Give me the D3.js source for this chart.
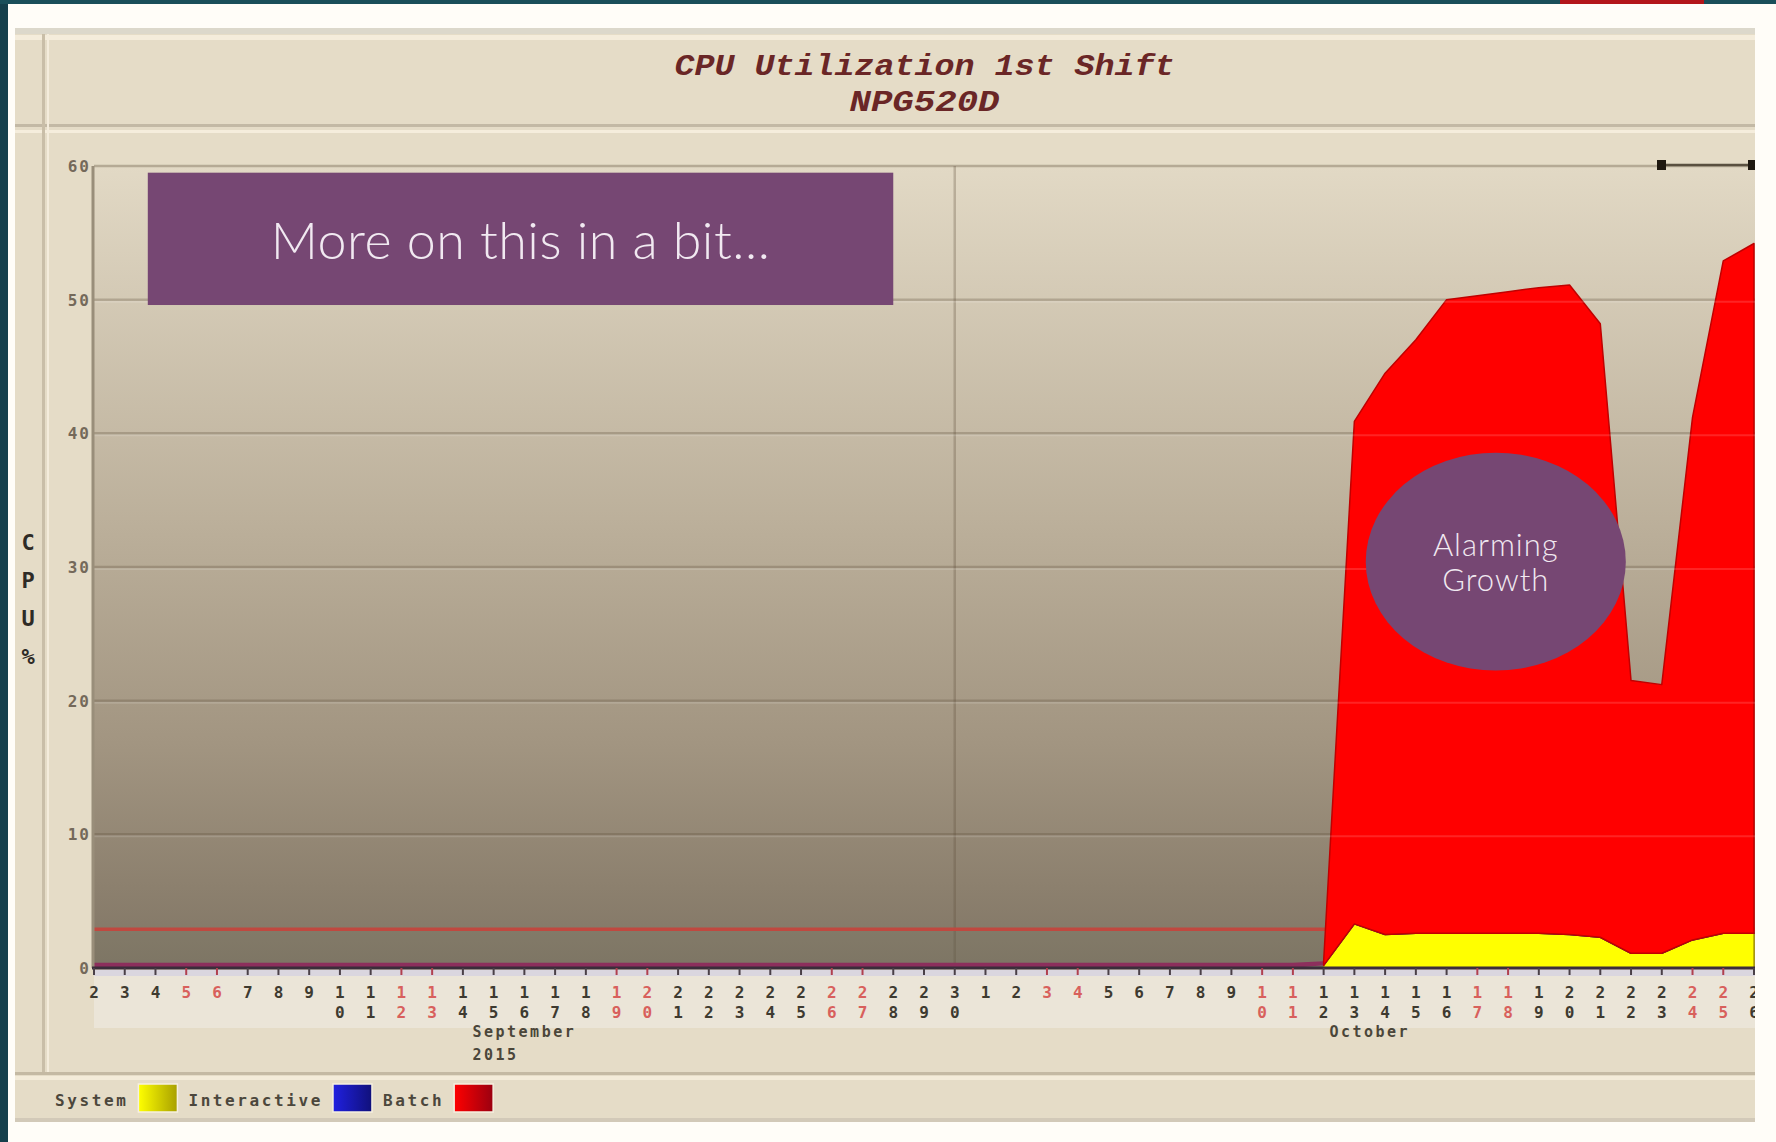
<!DOCTYPE html>
<html>
<head>
<meta charset="utf-8">
<title>CPU Utilization 1st Shift</title>
<script src="https://cdn.jsdelivr.net/npm/d3@7"></script>
<style>
body { margin: 0; background: #fffdf8; }
svg { display: block; }
</style>
</head>
<body>
<div id="chart"></div>
<script>
// ---- data ----
// one point per calendar day, Sep 2 2015 .. Oct 26 2015
var septDays = [2,3,4,5,6,7,8,9,10,11,12,13,14,15,16,17,18,19,20,21,22,23,24,25,26,27,28,29,30];
var octDays  = [1,2,3,4,5,6,7,8,9,10,11,12,13,14,15,16,17,18,19,20,21,22,23,24,25,26];

var systemCpu = [
  0,0,0,0,0,0,0,0,0,0,
  0,0,0,0,0,0,0,0,0,0,
  0,0,0,0,0,0,0,0,0,0,
  0,0,0,0,0,0,0,0,0,0,
  0.2,3.3,2.5,2.6,2.6,2.6,2.6,2.6,2.5,2.3,
  1.1,1.1,2.1,2.6,2.6
];
var interactiveCpu = [
  0,0,0,0,0,0,0,0,0,0,
  0,0,0,0,0,0,0,0,0,0,
  0,0,0,0,0,0,0,0,0,0,
  0,0,0,0,0,0,0,0,0,0,
  0,0,0,0,0,0,0,0,0,0,
  0,0,0,0,0
];
var batchCpu = [
  0.4,0.4,0.4,0.4,0.4,0.4,0.4,0.4,0.4,0.4,
  0.4,0.4,0.4,0.4,0.4,0.4,0.4,0.4,0.4,0.4,
  0.4,0.4,0.4,0.4,0.4,0.4,0.4,0.4,0.4,0.4,
  0.4,0.4,0.4,0.4,0.4,0.4,0.4,0.4,0.4,0.4,
  0.3,37.6,42.0,44.4,47.4,47.7,48.0,48.3,48.6,45.9,
  20.4,20.1,39.1,50.3,51.6
];
var flatLineLevel = 2.9;   // red reference line under the flat part

var yTicks = [0,10,20,30,40,50,60];
var yTickLabels = ["0","10","20","30","40","50","60"];
var monthLabels = [["September","2015"],["October"]];
var seriesKeys = ["system","interactive","batch"];
var legendNames = ["System","Interactive","Batch"];

var titleLines = ["CPU Utilization 1st Shift","NPG520D"];
var boxNote = {text: "More on this in a bit\u2026", x0: 1.75, x1: 26, y0: 49.6, y1: 59.5};
var bubbleNote = {lines: ["Alarming","Growth"], cx: 45.6, cy: 30.4, rx: 4.23, ry: 8.15};

// ---- layout ----
var W = 1776, H = 1142;
var plot = {left: 94, right: 1755, top: 166, bottom: 968};
var colors = {system: "#ffff00", interactive: "#2020e0", batch: "#ff0000"};
var swatchDark = {system: "#a8a000", interactive: "#10107a", batch: "#9a0010"};

var svg = d3.select("#chart").append("svg")
  .attr("width", W)
  .attr("height", H);

var defs = svg.append("defs");

var bg = defs.append("linearGradient")
  .attr("id", "plotBg")
  .attr("x1", 0).attr("y1", 0).attr("x2", 0).attr("y2", 1);
bg.append("stop").attr("offset", "0%").attr("stop-color", "#e2d9c5");
bg.append("stop").attr("offset", "45%").attr("stop-color", "#bbaf9a");
bg.append("stop").attr("offset", "72%").attr("stop-color", "#a29581");
bg.append("stop").attr("offset", "90%").attr("stop-color", "#8c806e");
bg.append("stop").attr("offset", "100%").attr("stop-color", "#807565");

seriesKeys.forEach(function(k) {
  var g = defs.append("linearGradient").attr("id", "sw_" + k);
  g.append("stop").attr("offset", "0%").attr("stop-color", colors[k]);
  g.append("stop").attr("offset", "100%").attr("stop-color", swatchDark[k]);
});

defs.append("clipPath").attr("id", "plotClip")
  .append("rect")
  .attr("x", plot.left).attr("y", 140)
  .attr("width", plot.right - plot.left).attr("height", plot.bottom - 140 + 1);

defs.append("clipPath").attr("id", "imgClip")
  .append("rect")
  .attr("x", 15).attr("y", 28)
  .attr("width", plot.right - 15).attr("height", 1122 - 28);

// page frame (slide around the screenshot)
svg.append("rect").attr("width", W).attr("height", H).attr("fill", "#fffdf8");
svg.append("rect").attr("x", 0).attr("y", 0).attr("width", 8).attr("height", H).attr("fill", "#153f4b");
svg.append("rect").attr("x", 0).attr("y", 0).attr("width", W).attr("height", 4).attr("fill", "#1a4f5a");
svg.append("rect").attr("x", 1560).attr("y", 0).attr("width", 144).attr("height", 4).attr("fill", "#b3161a");

// screenshot background
var img = svg.append("g").attr("clip-path", "url(#imgClip)");
img.append("rect").attr("x", 15).attr("y", 28).attr("width", plot.right - 15).attr("height", 1122 - 28).attr("fill", "#e5dcc7");
img.append("rect").attr("x", 15).attr("y", 28).attr("width", plot.right - 15).attr("height", 6).attr("fill", "#dcd8cb");
img.append("rect").attr("x", 15).attr("y", 35).attr("width", plot.right - 15).attr("height", 5).attr("fill", "#f4ecdb");
img.append("rect").attr("x", 15).attr("y", 124).attr("width", plot.right - 15).attr("height", 3).attr("fill", "#c3b9a5");
img.append("rect").attr("x", 15).attr("y", 130).attr("width", plot.right - 15).attr("height", 3).attr("fill", "#f5eddc");
img.append("rect").attr("x", 42).attr("y", 34).attr("width", 3).attr("height", 1073 - 34).attr("fill", "#c9bea8");
img.append("rect").attr("x", 47).attr("y", 34).attr("width", 2).attr("height", 1073 - 34).attr("fill", "#f4ecdc");
img.append("rect").attr("x", plot.left).attr("y", 970).attr("width", plot.right - plot.left).attr("height", 58).attr("fill", "#ebe5d8");
img.append("rect").attr("x", 15).attr("y", 1072).attr("width", plot.right - 15).attr("height", 3).attr("fill", "#c4b9a3");
img.append("rect").attr("x", 15).attr("y", 1076).attr("width", plot.right - 15).attr("height", 4).attr("fill", "#f3ebd9");
img.append("rect").attr("x", 15).attr("y", 1118).attr("width", plot.right - 15).attr("height", 4).attr("fill", "#d2c9b8");

// plot background
img.append("rect")
  .attr("x", plot.left).attr("y", plot.top)
  .attr("width", plot.right - plot.left).attr("height", plot.bottom - plot.top)
  .attr("fill", "url(#plotBg)");

// title
titleLines.forEach(function(t, i) {
  img.append("text")
    .attr("x", (plot.left + plot.right) / 2)
    .attr("y", 75 + i * 36)
    .attr("text-anchor", "middle")
    .attr("textLength", i == 0 ? 500 : 150)
    .attr("lengthAdjust", "spacingAndGlyphs")
    .style("font-family", "Liberation Mono")
    .style("font-weight", "bold")
    .style("font-style", "italic")
    .style("font-size", "30px")
    .attr("fill", "#6a2626")
    .text(t);
});

// scales
var xScale = d3.scaleLinear()
  .domain([0, septDays.length + octDays.length - 1])
  .range([plot.left, plot.right - 1]);

var yScale = d3.scaleLinear()
  .domain([0, 60])
  .range([plot.bottom, plot.top]);

var allDays = septDays.concat(octDays);

// grid lines
var plotG = img.append("g").attr("clip-path", "url(#plotClip)");
plotG.selectAll(".grid")
  .data(yTicks.filter(function(v) { return v > 0; }))
  .enter().append("line")
  .attr("x1", plot.left).attr("x2", plot.right)
  .attr("y1", function(v) { return yScale(v); })
  .attr("y2", function(v) { return yScale(v); })
  .attr("stroke", function(v) { return v == 60 ? "#b5aa95" : "rgba(95,80,60,0.3)"; })
  .attr("stroke-width", 2.5);

// month divider
plotG.append("line")
  .attr("x1", xScale(septDays.length - 1)).attr("x2", xScale(septDays.length - 1))
  .attr("y1", plot.top).attr("y2", plot.bottom)
  .attr("stroke", "rgba(95,80,60,0.3)")
  .attr("stroke-width", 2.5);

// stacked data
var rows = allDays.map(function(d, i) {
  return {i: i, system: systemCpu[i], interactive: interactiveCpu[i], batch: batchCpu[i]};
});
var stacked = d3.stack().keys(seriesKeys)(rows);
var growthStart = systemCpu.findIndex(function(v) { return v > 0; });

var area = d3.area()
  .x(function(d) { return xScale(d.data.i); })
  .y0(function(d) { return yScale(d[0]); })
  .y1(function(d) { return yScale(d[1]); });

// flat part before the ramp: reference line, tinted band, thin batch band
var flatRows = rows.filter(function(r) { return r.i <= growthStart; });
plotG.append("path")
  .datum(flatRows)
  .attr("fill", "rgba(110,125,100,0.12)")
  .attr("d", d3.area()
    .x(function(d) { return xScale(d.i); })
    .y0(function(d) { return yScale(d.batch); })
    .y1(yScale(flatLineLevel)));

plotG.append("line")
  .attr("x1", plot.left).attr("x2", plot.right)
  .attr("y1", yScale(flatLineLevel)).attr("y2", yScale(flatLineLevel))
  .attr("stroke", "#c0483f")
  .attr("stroke-width", 3.5);

plotG.append("path")
  .datum(stacked[2].filter(function(d) { return d.data.i <= growthStart; }))
  .attr("fill", "#8c2f5c")
  .attr("d", area);

// growth part
var strokes = {system: "#b0a000", interactive: "#101080", batch: "#c00000"};
stacked.forEach(function(s) {
  plotG.append("path")
    .datum(s.filter(function(d) { return d.data.i >= growthStart; }))
    .attr("fill", colors[s.key])
    .attr("stroke", strokes[s.key])
    .attr("stroke-width", 1.5)
    .attr("stroke-linejoin", "round")
    .attr("d", area);
});

// faint grid showing through the fill
plotG.selectAll(".gridTop")
  .data(yTicks.filter(function(v) { return v > 0 && v < 60; }))
  .enter().append("line")
  .attr("x1", plot.left).attr("x2", plot.right)
  .attr("y1", function(v) { return yScale(v) + 2; })
  .attr("y2", function(v) { return yScale(v) + 2; })
  .attr("stroke", "rgba(255,255,255,0.14)")
  .attr("stroke-width", 2);

// y axis
img.append("line")
  .attr("x1", plot.left - 1).attr("x2", plot.left - 1)
  .attr("y1", plot.top).attr("y2", plot.bottom)
  .attr("stroke", "#998e7a").attr("stroke-width", 3);

img.selectAll(".ylab")
  .data(yTicks)
  .enter().append("text")
  .attr("x", 91)
  .attr("y", function(v) { return yScale(v) + 6; })
  .attr("text-anchor", "end")
  .style("font-family", "DejaVu Sans Mono")
  .style("font-weight", "bold")
  .style("font-size", "16px")
  .style("letter-spacing", "2px")
  .attr("fill", "#74695a")
  .text(function(v, i) { return yTickLabels[i]; });

["C","P","U","%"].forEach(function(c, i) {
  img.append("text")
    .attr("x", 28).attr("y", 550 + i * 38)
    .attr("text-anchor", "middle")
    .style("font-family", "DejaVu Sans Mono")
    .style("font-weight", "bold")
    .style("font-size", "22px")
    .attr("fill", "#2e2b26")
    .text(c);
});

// x axis
var xAxisG = img.append("g");
xAxisG.append("rect")
  .attr("x", plot.left).attr("y", plot.bottom + 2)
  .attr("width", plot.right - plot.left).attr("height", 6)
  .attr("fill", "#dad6df");
xAxisG.append("line")
  .attr("x1", plot.left - 2).attr("x2", plot.right)
  .attr("y1", plot.bottom).attr("y2", plot.bottom)
  .attr("stroke", "#3b2d3a").attr("stroke-width", 3);

function isWeekend(i) {
  var dt = new Date(2015, 8, 2 + i);
  return dt.getDay() == 0 || dt.getDay() == 6;
}

var ticks = xAxisG.selectAll(".tick")
  .data(allDays.map(function(d, i) { return {day: d, i: i}; }))
  .enter().append("g")
  .attr("transform", function(d) { return "translate(" + xScale(d.i) + ",0)"; });

ticks.append("line")
  .attr("y1", plot.bottom).attr("y2", plot.bottom + 7)
  .attr("stroke", function(d) { return isWeekend(d.i) ? "#b04050" : "#4a4048"; })
  .attr("stroke-width", 2);

ticks.each(function(d) {
  var s = String(d.day);
  var g = d3.select(this);
  for (var k = 0; k < s.length; k++) {
    g.append("text")
      .attr("x", 0)
      .attr("y", 998 + k * 20)
      .attr("text-anchor", "middle")
      .style("font-family", "DejaVu Sans Mono")
      .style("font-weight", "bold")
      .style("font-size", "16px")
      .attr("fill", isWeekend(d.i) ? "#d8605c" : "#3e3a30")
      .text(s[k]);
  }
});

// month labels, centred over the visible part of each month
var monthRanges = [[0, septDays.length - 1], [septDays.length, allDays.length - 1]];
monthLabels.forEach(function(lines, m) {
  var cx = (xScale(monthRanges[m][0]) + Math.min(xScale(monthRanges[m][1]), plot.right)) / 2;
  var g = img.append("g");
  var first = g.append("text")
    .attr("y", 1037)
    .style("font-family", "DejaVu Sans Mono")
    .style("font-weight", "bold")
    .style("font-size", "15px")
    .style("letter-spacing", "2.5px")
    .attr("fill", "#4b463a")
    .text(lines[0]);
  var w = first.node().getComputedTextLength();
  first.attr("x", cx - w / 2);
  for (var k = 1; k < lines.length; k++) {
    g.append("text")
      .attr("x", cx - w / 2)
      .attr("y", 1037 + k * 23)
      .style("font-family", "DejaVu Sans Mono")
      .style("font-weight", "bold")
      .style("font-size", "15px")
      .style("letter-spacing", "2.5px")
      .attr("fill", "#4b463a")
      .text(lines[k]);
  }
});

// small scroll marker top right
img.append("line")
  .attr("x1", 1662).attr("x2", 1752).attr("y1", 165).attr("y2", 165)
  .attr("stroke", "#5a5040").attr("stroke-width", 2.5);
img.append("rect").attr("x", 1657).attr("y", 160).attr("width", 9).attr("height", 10).attr("fill", "#1e1810");
img.append("rect").attr("x", 1748).attr("y", 160).attr("width", 9).attr("height", 10).attr("fill", "#1e1810");

// legend
var lx = 55;
legendNames.forEach(function(name, i) {
  var t = img.append("text")
    .attr("x", lx).attr("y", 1106)
    .style("font-family", "DejaVu Sans Mono")
    .style("font-weight", "bold")
    .style("font-size", "16px")
    .style("letter-spacing", "2.6px")
    .attr("fill", "#4c473c")
    .text(name);
  lx += t.node().getComputedTextLength() + 10;
  img.append("rect")
    .attr("x", lx).attr("y", 1084)
    .attr("width", 39).attr("height", 28)
    .attr("fill", "url(#sw_" + seriesKeys[i] + ")")
    .attr("stroke", "#f6f0e0").attr("stroke-width", 1.5);
  lx += 50;
});

// annotation box
svg.append("rect")
  .attr("x", xScale(boxNote.x0)).attr("y", yScale(boxNote.y1))
  .attr("width", xScale(boxNote.x1) - xScale(boxNote.x0))
  .attr("height", yScale(boxNote.y0) - yScale(boxNote.y1))
  .attr("fill", "#764773");
svg.append("text")
  .attr("x", (xScale(boxNote.x0) + xScale(boxNote.x1)) / 2)
  .attr("y", (yScale(boxNote.y0) + yScale(boxNote.y1)) / 2 + 20)
  .attr("text-anchor", "middle")
  .style("font-family", "Lato")
  .style("font-weight", 300)
  .style("font-size", "52px")
  .style("letter-spacing", "0.5px")
  .attr("fill", "#f1e9f1")
  .text(boxNote.text);

// annotation bubble
svg.append("ellipse")
  .attr("cx", xScale(bubbleNote.cx)).attr("cy", yScale(bubbleNote.cy))
  .attr("rx", xScale(bubbleNote.rx) - xScale(0))
  .attr("ry", yScale(0) - yScale(bubbleNote.ry))
  .attr("fill", "#764773");
bubbleNote.lines.forEach(function(l, i) {
  svg.append("text")
    .attr("x", xScale(bubbleNote.cx))
    .attr("y", yScale(bubbleNote.cy) - 6 + i * 35)
    .attr("text-anchor", "middle")
    .style("font-family", "Lato")
    .style("font-weight", 300)
    .style("font-size", "31px")
    .style("letter-spacing", "1px")
    .attr("fill", "#f1e9f1")
    .text(l);
});
</script>
</body>
</html>
